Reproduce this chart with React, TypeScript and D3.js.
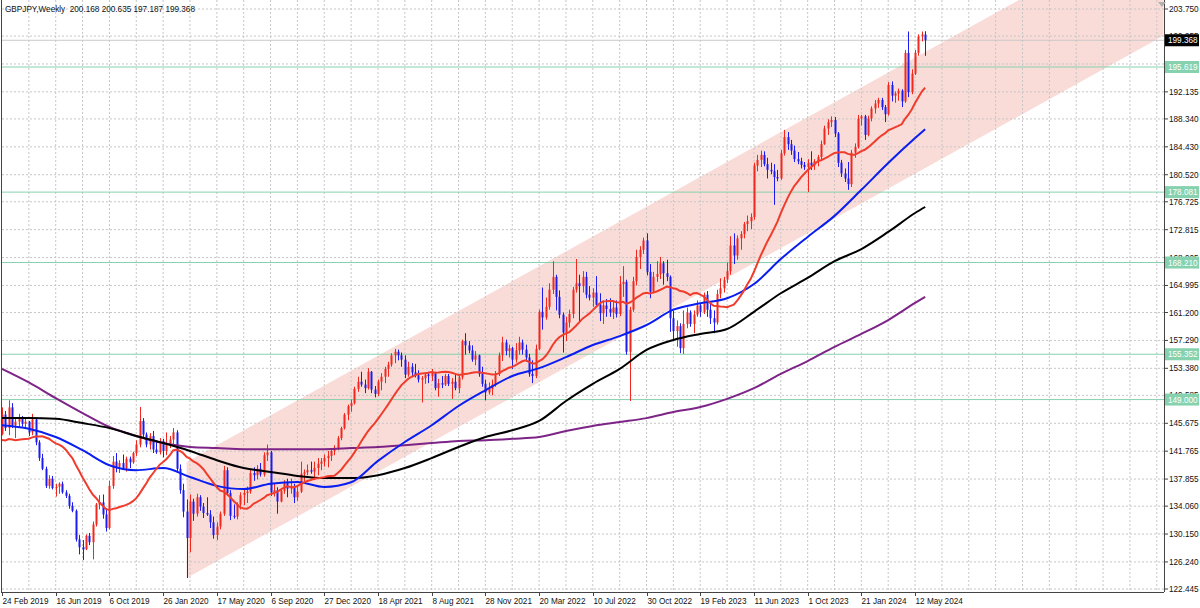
import React from "react";
import * as d3 from "d3";

// weekly GBPJPY candles [open, high, low, close], one array per calendar year
const bars2019 = [
  [144.2, 147.9, 144.0, 146.9], [146.9, 147.4, 144.6, 145.0], [145.0, 148.9, 144.0, 147.9], [147.9, 148.5, 145.0, 145.4],
  [145.4, 146.5, 143.6, 145.9], [145.9, 147.0, 145.1, 146.4], [146.4, 146.7, 145.2, 145.6], [145.6, 146.4, 145.0, 145.9],
  [145.9, 146.0, 143.9, 144.4], [144.4, 147.0, 144.0, 146.2], [146.2, 146.5, 142.6, 143.0], [143.0, 143.3, 140.4, 140.8],
  [140.8, 141.4, 139.1, 139.3], [139.3, 139.6, 136.6, 136.9], [136.9, 138.4, 136.5, 137.9], [137.9, 138.3, 136.4, 136.6],
  [136.6, 137.2, 135.4, 136.8], [136.8, 137.4, 135.8, 137.2], [137.2, 137.5, 135.8, 136.0], [136.0, 136.3, 135.2, 135.5],
  [135.5, 135.8, 133.7, 134.1], [134.1, 134.6, 133.2, 133.4], [133.4, 133.6, 129.1, 129.4], [129.4, 130.0, 127.3, 128.3],
  [128.3, 129.3, 126.5, 128.0], [128.0, 130.1, 127.9, 129.9], [129.9, 130.3, 128.6, 129.0], [129.0, 131.9, 126.6, 131.5],
  [131.5, 134.5, 131.2, 134.3], [134.3, 135.6, 133.6, 134.6], [134.6, 135.7, 132.3, 132.9], [132.9, 133.8, 130.5, 131.0],
  [131.0, 137.6, 130.8, 136.9], [136.9, 141.1, 136.5, 140.3], [140.3, 141.5, 138.8, 139.6], [139.6, 140.5, 138.7, 140.1],
  [140.1, 141.3, 139.2, 139.4], [139.4, 141.0, 138.9, 140.7], [140.7, 141.0, 139.4, 140.2], [140.2, 141.7, 140.0, 141.5],
  [141.5, 143.3, 141.1, 142.7], [142.7, 147.96, 142.3, 146.0], [146.0, 146.4, 143.5, 144.1], [144.1, 144.4, 142.3, 142.7],
  [142.7, 144.3, 142.0, 143.9],
];
const bars2020 = [
  [143.9, 144.6, 141.5, 142.0], [142.0, 143.2, 141.4, 141.6], [141.6, 143.6, 141.3, 143.2], [143.2, 143.5, 140.9, 141.8],
  [141.8, 144.4, 141.2, 142.9], [142.9, 143.9, 142.2, 143.4], [143.4, 145.0, 142.6, 144.4], [144.4, 144.7, 138.7, 139.3],
  [139.3, 139.9, 135.8, 136.3], [136.3, 137.2, 132.5, 133.3], [133.3, 135.0, 123.99, 129.6], [129.6, 135.7, 127.6, 134.7],
  [134.7, 135.1, 132.0, 133.0], [133.0, 135.8, 132.6, 135.3], [135.3, 135.6, 133.4, 134.0], [134.0, 134.5, 132.4, 133.1],
  [133.1, 135.3, 132.7, 132.9], [132.9, 133.5, 131.0, 131.8], [131.8, 132.6, 129.5, 130.0], [130.0, 131.8, 129.3, 131.2],
  [131.2, 133.3, 130.8, 133.0], [133.0, 139.7, 132.7, 139.1], [139.1, 139.5, 135.5, 135.9], [135.9, 136.3, 132.1, 132.7],
  [132.7, 134.3, 132.3, 132.6], [132.6, 134.6, 132.2, 134.3], [134.3, 136.0, 133.6, 135.6], [135.6, 136.4, 134.2, 135.9],
  [135.9, 136.8, 134.5, 136.1], [136.1, 139.2, 135.8, 138.7], [138.7, 139.5, 137.6, 138.4], [138.4, 139.8, 137.8, 139.3],
  [139.3, 140.1, 138.2, 138.5], [138.5, 141.6, 138.2, 141.2], [141.2, 142.7, 140.4, 141.6], [141.6, 141.8, 135.5, 136.0],
  [136.0, 137.2, 135.4, 136.3], [136.3, 136.7, 133.0, 134.7], [134.7, 136.6, 134.6, 136.2], [136.2, 137.7, 135.8, 137.3],
  [137.3, 137.9, 135.3, 136.5], [136.5, 137.9, 135.8, 136.9], [136.9, 137.2, 134.5, 135.3], [135.3, 137.0, 134.8, 136.1],
  [136.1, 140.3, 135.9, 138.6], [138.6, 139.2, 137.2, 138.8], [138.8, 139.9, 138.4, 139.1], [139.1, 140.3, 138.6, 138.9],
  [138.9, 140.3, 137.7, 139.4], [139.4, 140.8, 138.4, 140.0], [140.0, 140.8, 139.1, 140.3], [140.3, 141.3, 139.6, 140.8],
];
const bars2021 = [
  [140.8, 141.8, 139.5, 141.1], [141.1, 142.0, 140.4, 141.8], [141.8, 142.6, 141.2, 142.2], [142.2, 143.9, 141.9, 143.6],
  [143.6, 145.2, 143.3, 145.0], [145.0, 147.1, 144.8, 146.9], [146.9, 148.3, 146.1, 148.1], [148.1, 149.0, 147.3, 148.5],
  [148.5, 150.8, 148.3, 150.5], [150.5, 152.2, 150.1, 151.5], [151.5, 152.9, 150.8, 151.1], [151.1, 151.8, 149.9, 150.6],
  [150.6, 153.4, 150.4, 152.9], [152.9, 153.0, 149.9, 150.4], [150.4, 150.9, 149.3, 149.8], [149.8, 151.8, 149.5, 151.5],
  [151.5, 152.7, 150.3, 152.2], [152.2, 153.6, 151.3, 153.3], [153.3, 154.3, 152.2, 153.9], [153.9, 155.5, 153.6, 155.2],
  [155.2, 156.1, 154.1, 155.7], [155.7, 156.0, 154.5, 155.2], [155.2, 155.6, 153.6, 154.6], [154.6, 155.2, 152.0, 152.5],
  [152.5, 154.3, 152.2, 153.6], [153.6, 154.1, 152.3, 152.8], [152.8, 154.0, 152.1, 152.4], [152.4, 153.1, 151.4, 151.8],
  [151.8, 152.3, 148.6, 152.0], [152.0, 152.8, 151.2, 152.5], [152.5, 152.9, 151.3, 152.3], [152.3, 153.3, 151.6, 152.7],
  [152.7, 152.9, 150.3, 150.6], [150.6, 151.9, 149.4, 151.3], [151.3, 152.3, 150.6, 151.1], [151.1, 152.6, 150.9, 152.3],
  [152.3, 152.6, 150.9, 151.2], [151.2, 152.0, 149.1, 151.5], [151.5, 152.6, 150.3, 150.6], [150.6, 152.4, 149.9, 152.1],
  [152.1, 157.4, 151.8, 157.2], [157.2, 158.3, 155.3, 156.6], [156.6, 157.2, 155.5, 155.9], [155.9, 156.6, 154.3, 154.6],
  [154.6, 155.8, 153.8, 155.2], [155.2, 155.3, 152.2, 152.6], [152.6, 153.6, 150.8, 151.2], [151.2, 151.8, 148.9, 150.0],
  [150.0, 151.4, 149.7, 150.5], [150.5, 151.8, 149.6, 151.1], [151.1, 153.0, 150.8, 152.6], [152.6, 155.6, 152.3, 155.2],
];
const bars2022 = [
  [155.2, 157.8, 154.4, 157.0], [157.0, 157.4, 155.2, 155.8], [155.8, 156.7, 154.9, 156.2], [156.2, 156.4, 153.3, 154.6],
  [154.6, 156.9, 154.2, 155.9], [155.9, 157.8, 155.3, 157.0], [157.0, 157.4, 155.3, 156.0], [156.0, 156.7, 154.3, 154.9],
  [154.9, 155.4, 152.2, 152.6], [152.6, 154.5, 151.3, 152.3], [152.3, 156.7, 152.0, 156.1], [156.1, 161.6, 155.9, 161.3],
  [161.3, 164.7, 158.8, 160.5], [160.5, 163.3, 160.2, 162.0], [162.0, 165.3, 161.6, 164.4], [164.4, 168.4, 163.8, 166.2],
  [166.2, 166.5, 161.5, 163.4], [163.4, 164.3, 160.4, 160.9], [160.9, 161.2, 155.6, 158.4], [158.4, 160.6, 157.2, 159.8],
  [159.8, 161.6, 159.1, 161.0], [161.0, 164.8, 160.4, 164.4], [164.4, 168.7, 164.0, 165.3], [165.3, 166.5, 160.0, 164.9],
  [164.9, 167.0, 164.0, 166.2], [166.2, 166.9, 163.2, 163.7], [163.7, 164.9, 162.9, 163.3], [163.3, 164.6, 162.0, 164.0],
  [164.0, 166.3, 162.0, 162.3], [162.3, 163.9, 160.0, 161.1], [161.1, 162.9, 159.6, 162.2], [162.2, 163.1, 160.6, 161.7],
  [161.7, 163.2, 160.6, 161.2], [161.2, 162.9, 160.3, 161.9], [161.9, 162.9, 160.5, 161.0], [161.0, 166.3, 160.7, 165.2],
  [165.2, 167.7, 163.4, 165.5], [165.5, 165.8, 155.3, 155.7], [155.7, 162.0, 148.8, 161.6], [161.6, 166.2, 161.3, 165.6],
  [165.6, 170.0, 165.0, 169.0], [169.0, 170.5, 167.3, 170.0], [170.0, 171.7, 169.4, 171.3], [171.3, 172.3, 166.4, 166.9],
  [166.9, 168.0, 163.2, 164.1], [164.1, 166.9, 163.9, 166.2], [166.2, 168.4, 165.5, 166.6], [166.6, 169.0, 165.9, 168.1],
  [168.1, 168.4, 165.1, 166.7], [166.7, 168.6, 165.6, 166.2], [166.2, 166.4, 158.5, 160.4], [160.4, 161.5, 157.3, 158.6],
];
const bars2023 = [
  [158.6, 160.1, 156.4, 159.3], [159.3, 159.7, 155.5, 156.2], [156.2, 161.5, 155.4, 159.6], [159.6, 161.9, 159.0, 161.2],
  [161.2, 161.5, 159.2, 159.6], [159.6, 161.5, 158.3, 160.9], [160.9, 162.9, 160.6, 162.2], [162.2, 162.5, 160.6, 161.3],
  [161.3, 164.0, 161.0, 163.7], [163.7, 164.2, 160.6, 161.6], [161.6, 162.5, 159.6, 160.4], [160.4, 161.5, 158.3, 159.8],
  [159.8, 164.4, 159.5, 163.8], [163.8, 166.0, 163.2, 164.6], [164.6, 166.2, 164.0, 165.8], [165.8, 168.2, 165.3, 167.0],
  [167.0, 171.9, 166.5, 170.6], [170.6, 172.3, 168.0, 169.2], [169.2, 172.0, 168.6, 171.6], [171.6, 172.6, 170.0, 172.2],
  [172.2, 173.9, 171.6, 173.6], [173.6, 174.8, 172.6, 174.0], [174.0, 175.1, 172.9, 174.6], [174.6, 182.2, 174.2, 181.8],
  [181.8, 183.3, 181.0, 182.6], [182.6, 183.9, 181.6, 183.3], [183.3, 183.8, 181.7, 182.0], [182.0, 182.9, 180.0, 181.2],
  [181.2, 182.2, 180.6, 181.0], [181.0, 182.0, 176.3, 180.2], [180.2, 181.2, 179.6, 180.0], [180.0, 184.0, 179.8, 183.5],
  [183.5, 186.8, 183.2, 185.8], [185.8, 186.5, 184.0, 184.8], [184.8, 185.4, 183.3, 183.9], [183.9, 184.6, 182.3, 182.7],
  [182.7, 183.7, 182.0, 182.4], [182.4, 182.9, 181.4, 181.9], [181.9, 182.3, 181.2, 181.6], [181.6, 182.7, 178.1, 182.2],
  [182.2, 183.8, 181.2, 181.8], [181.8, 182.7, 181.2, 182.4], [182.4, 183.3, 181.7, 183.0], [183.0, 185.3, 182.6, 184.8],
  [184.8, 187.4, 184.7, 187.0], [187.0, 188.3, 186.1, 187.9], [187.9, 188.7, 187.2, 188.2], [188.2, 188.6, 185.8, 186.3],
  [186.3, 186.5, 181.6, 182.2], [182.2, 182.6, 180.2, 180.7], [180.7, 181.4, 179.5, 180.0], [180.0, 182.3, 178.4, 179.2],
  [179.2, 184.0, 178.8, 183.6],
];
const bars2024 = [
  [183.6, 184.9, 182.9, 184.4], [184.4, 188.9, 184.2, 188.4], [188.4, 188.9, 187.4, 188.7], [188.7, 188.9, 185.4, 186.1],
  [186.1, 188.8, 185.9, 188.4], [188.4, 190.1, 188.0, 189.8], [189.8, 191.0, 189.1, 190.5], [190.5, 191.3, 189.9, 191.0],
  [191.0, 191.3, 189.6, 190.0], [190.0, 190.3, 187.9, 189.0], [189.0, 193.5, 188.8, 193.1], [193.1, 193.6, 190.8, 191.6],
  [191.6, 192.2, 190.6, 191.9], [191.9, 192.6, 190.9, 192.3], [192.3, 192.5, 190.0, 190.8], [190.8, 198.0, 190.6, 197.6],
  [197.6, 200.6, 191.4, 192.1], [192.1, 195.3, 191.8, 194.7], [194.7, 198.0, 194.5, 197.6], [197.6, 200.2, 197.2, 199.9],
  [199.9, 200.6, 199.2, 200.168], [200.168, 200.635, 197.187, 199.368],
];

// 19 weekly closes before the first visible bar, feeding the 20-week average
const priorCloses = [146.0, 144.0, 146.6, 148.1, 145.0, 144.6, 144.8, 143.6, 142.6, 140.6,
  140.6, 139.1, 139.9, 141.5, 143.6, 142.8, 140.7, 141.6, 144.0];

// slower averages, one value every 8 bars (last one at the final bar)
const ma50Blue = [145.4, 144.9, 143.75, 141.9, 139.8, 139.1, 139.4, 138.15, 136.9, 136.45, 137.2, 137.45,
  136.75, 137.4, 140.4, 143.05, 145.4, 148.1, 150.3, 152.3, 153.4, 154.95, 156.65, 157.9, 159.45, 161.6,
  162.5, 163.2, 165.2, 168.7, 171.8, 174.75, 178.4, 182.15, 185.65, 186.9];
const ma100Black = [146.4, 146.4, 146.3, 145.7, 145.0, 143.9, 142.9, 141.8, 140.5, 139.4, 138.85, 138.3,
  138.0, 138.0, 138.4, 139.4, 140.8, 142.35, 143.75, 144.7, 146.0, 148.8, 151.2, 153.3, 155.95, 157.35,
  158.2, 158.9, 161.3, 163.9, 166.05, 168.4, 170.1, 172.5, 175.15, 176.0];
const ma200Purple = [153.3, 151.4, 149.2, 147.1, 145.15, 143.9, 142.9, 142.35, 142.2, 142.05, 142.05, 142.05,
  142.05, 142.2, 142.35, 142.6, 142.9, 143.2, 143.3, 143.5, 143.75, 144.6, 145.3, 145.85, 146.4, 147.25,
  147.95, 149.1, 150.6, 152.6, 154.4, 156.4, 158.2, 160.15, 162.55, 163.4];

const yTicks = [203.75, 199.955, 196.045, 192.135, 188.34, 184.43, 180.52, 176.725, 172.815, 168.905,
  164.995, 161.2, 157.29, 153.38, 149.585, 145.675, 141.765, 137.855, 134.06, 130.15, 126.24, 122.445];
const xLabels = ["24 Feb 2019", "16 Jun 2019", "6 Oct 2019", "26 Jan 2020", "17 May 2020", "6 Sep 2020",
  "27 Dec 2020", "18 Apr 2021", "8 Aug 2021", "28 Nov 2021", "20 Mar 2022", "10 Jul 2022", "30 Oct 2022",
  "19 Feb 2023", "11 Jun 2023", "1 Oct 2023", "21 Jan 2024", "12 May 2024"];

const levels = [195.619, 178.081, 168.21, 155.352, 149.0];
const lastPrice = 199.368;
const header = "GBPJPY,Weekly  200.168 200.635 197.187 199.368";

// regression channel: start bar, lower / upper edge there, rise per bar
const channelStart = 55;
const channelLow = 123.99;
const channelHigh = 140.25;
const channelSlope = 0.2612;

const FONT = "'Liberation Sans', Arial, sans-serif";
const UP = "#f2281e";
const DOWN = "#1c1cf0";
const TEAL = "#86d1ae";

export default function App() {
  const bars = [...bars2019, ...bars2020, ...bars2021, ...bars2022, ...bars2023, ...bars2024];
  const n = bars.length;
  const lastBar = 346;
  const plotR = 1164, plotB = 592;

  const x = d3.scaleLinear().domain([0, lastBar]).range([2, 1163.5]);
  const y = d3.scaleLinear().domain([122.445, 203.75]).range([589, 9]);

  const closes = priorCloses.concat(bars.map((b) => b[3]));
  const sma20 = d3.range(n).map((i) => d3.mean(closes.slice(i, i + 20)) as number);

  const sampleBars = d3.range(0, n - 3, 8).concat([n - 1]);
  const lineFn = d3.line<[number, number]>().x((d) => x(d[0])).y((d) => y(d[1])).curve(d3.curveMonotoneX);
  const sampled = (vals: number[]) => lineFn(sampleBars.map((b, k) => [b, vals[k]] as [number, number])) || "";
  const redPath = d3.line<number>().x((_, i) => x(i)).y((d) => y(d))(sma20) || "";

  const chSpan = lastBar - channelStart;
  const chPts = [
    [channelStart, channelLow],
    [lastBar, channelLow + channelSlope * chSpan],
    [lastBar, channelHigh + channelSlope * chSpan],
    [channelStart, channelHigh],
  ].map(([b, p]) => `${x(b)},${y(p)}`).join(" ");

  const vGrid = d3.range(8, lastBar, 8);

  return (
    <svg width={1200} height={608} style={{ position: "absolute", left: 0, top: 0, background: "#fff" }}
      fontFamily={FONT}>
      <defs>
        <clipPath id="plot"><rect x={2} y={0} width={plotR - 2} height={plotB} /></clipPath>
      </defs>
      <rect x={0} y={0} width={1200} height={608} fill="#fff" />
      <g clipPath="url(#plot)">
        <polygon points={chPts} fill="#f9dcd7" />
        {vGrid.map((b) => (
          <line key={"v" + b} x1={x(b)} x2={x(b)} y1={0} y2={plotB} stroke="#c6c6c6" strokeDasharray="2 2" />
        ))}
        {yTicks.map((t) => (
          <line key={"h" + t} x1={2} x2={plotR} y1={y(t)} y2={y(t)} stroke="#c6c6c6" strokeDasharray="2 2" />
        ))}
        <line x1={2} x2={plotR} y1={y(lastPrice)} y2={y(lastPrice)} stroke="#c8c8c8" />
        {levels.map((l) => (
          <line key={"l" + l} x1={2} x2={plotR} y1={y(l)} y2={y(l)} stroke={TEAL} />
        ))}
        {bars.map((b, i) => {
          const [o, h, l, c] = b;
          const col = c >= o ? UP : DOWN;
          const cx = Math.round(x(i)) + 0.5;
          const top = y(Math.max(o, c));
          const bot = y(Math.min(o, c));
          return (
            <g key={i}>
              <line x1={cx} x2={cx} y1={y(h)} y2={y(l)} stroke={col} strokeWidth={1} />
              <rect x={cx - 1} y={top} width={2} height={Math.max(1, bot - top)} fill={col} />
            </g>
          );
        })}
        <path d={sampled(ma200Purple)} fill="none" stroke="#7d2487" strokeWidth={2} />
        <path d={sampled(ma100Black)} fill="none" stroke="#000" strokeWidth={2} />
        <path d={sampled(ma50Blue)} fill="none" stroke="#0a1ef0" strokeWidth={2} />
        <path d={redPath} fill="none" stroke="#f03c2c" strokeWidth={2} />
      </g>

      {/* frame */}
      <line x1={1.5} x2={1.5} y1={0} y2={plotB} stroke="#444" />
      <line x1={plotR + 0.5} x2={plotR + 0.5} y1={0} y2={plotB} stroke="#444" />
      <line x1={1} x2={plotR} y1={plotB + 0.5} y2={plotB + 0.5} stroke="#444" />
      <polygon points="1158,2 1166,2 1162,7" fill="#b0b0b0" />

      <text x={5} y={12} fontSize={8.2} fill="#111" style={{ whiteSpace: "pre" }}>{header}</text>

      {/* price axis */}
      {yTicks.map((t) => (
        <g key={"t" + t}>
          <line x1={plotR} x2={plotR + 4} y1={y(t)} y2={y(t)} stroke="#444" />
          <text x={1169} y={y(t) + 3} fontSize={8.2} fill="#111">{t.toFixed(3)}</text>
        </g>
      ))}
      {levels.map((l) => (
        <g key={"tag" + l}>
          <rect x={1165} y={y(l) - 6} width={34} height={12} fill={TEAL} />
          <text x={1168} y={y(l) + 3} fontSize={8.2} fill="#fff">{l.toFixed(3)}</text>
        </g>
      ))}
      <rect x={1165} y={y(lastPrice) - 6} width={34} height={12} fill="#000" />
      <text x={1168} y={y(lastPrice) + 3} fontSize={8.2} fill="#fff">{lastPrice.toFixed(3)}</text>

      {/* time axis */}
      {xLabels.map((lab, k) => {
        const px = Math.round(x(k * 16)) + 0.5;
        return (
          <g key={lab}>
            <line x1={px} x2={px} y1={plotB} y2={plotB + 4} stroke="#444" />
            <text x={px} y={604} fontSize={8.2} fill="#111">{lab}</text>
          </g>
        );
      })}
    </svg>
  );
}
